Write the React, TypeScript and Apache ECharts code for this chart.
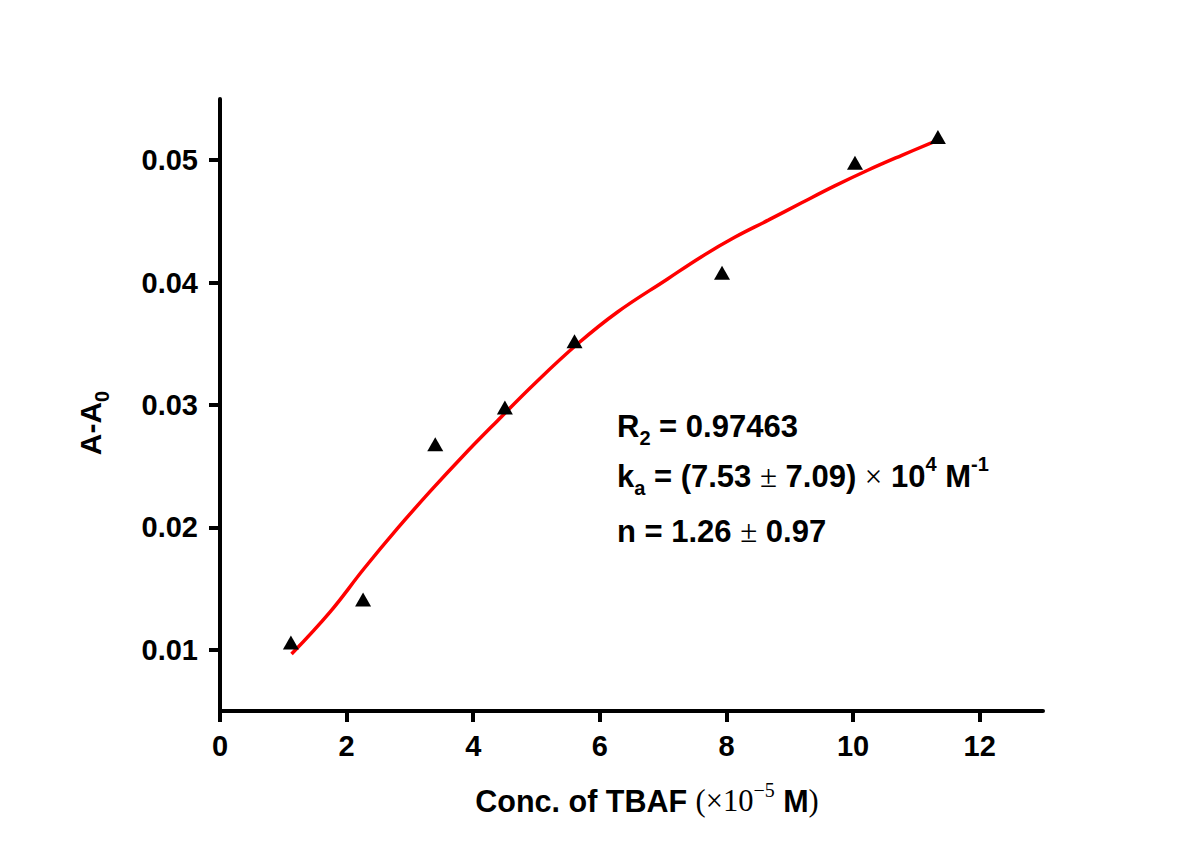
import React, { useEffect, useRef } from "react";
import * as echarts from "echarts";

// measured points (x: conc ×10^-5 M, y: A-A0)
const pointX = [1.12, 2.26, 3.40, 4.50, 5.60, 7.93, 10.03, 11.34];
const pointY = [0.0106, 0.0141, 0.0268, 0.0298, 0.0352, 0.0408, 0.0498, 0.0519];

// fitted curve
const curveX = [1.13, 1.74, 2.27, 2.80, 3.33, 3.85, 4.38, 4.96, 5.65, 6.28, 7.07, 7.60, 8.13, 8.66, 9.18, 9.71, 10.24, 10.77, 11.32];
const curveY = [0.00965, 0.0131, 0.0166, 0.0199, 0.0230, 0.0259, 0.0287, 0.0317, 0.0350, 0.0376, 0.0403, 0.0421, 0.0437, 0.0451, 0.0465, 0.0479, 0.0492, 0.0504, 0.0516];

const xTicks = [0, 2, 4, 6, 8, 10, 12];
const yTicks = [0.01, 0.02, 0.03, 0.04, 0.05];

const SANS = "Liberation Sans";
const SERIF = "Liberation Serif";

function makeRich(fs: number, sfs: number) {
  const L = Math.round(fs * 1.42);
  return {
    m: { fontFamily: SANS, fontWeight: "bold", fontSize: fs, lineHeight: L, verticalAlign: "middle", color: "#000" },
    sub: { fontFamily: SANS, fontWeight: "bold", fontSize: sfs, lineHeight: Math.round(fs * 0.52), verticalAlign: "bottom", color: "#000" },
    sup: { fontFamily: SANS, fontWeight: "bold", fontSize: sfs, lineHeight: Math.round(fs * 1.03), verticalAlign: "top", color: "#000" },
    sym: { fontFamily: SERIF, fontWeight: "normal", fontSize: fs, lineHeight: L, verticalAlign: "middle", color: "#000" },
    ssup: { fontFamily: SERIF, fontWeight: "normal", fontSize: sfs, lineHeight: Math.round(fs * 1.03), verticalAlign: "top", color: "#000" },
  };
}
const richNote = makeRich(31, 20);
const richTitle = makeRich(30.5, 20);
const richY = makeRich(30, 20);

export default function App() {
  const ref = useRef<HTMLDivElement>(null);
  useEffect(() => {
    if (!ref.current) return;
    const chart = echarts.init(ref.current, null, { renderer: "svg" });
    const axisCommon = {
      axisLine: { show: true, lineStyle: { color: "#000", width: 4 } },
      axisTick: { show: true, inside: false, length: 11, lineStyle: { color: "#000", width: 4 } },
      splitLine: { show: false },
      minorTick: { show: false },
    };
    const labelStyle = { fontFamily: SANS, fontWeight: "bold", fontSize: 29, color: "#000" };
    chart.setOption({
      animation: false,
      backgroundColor: "#fff",
      grid: { left: 220, right: 152, top: 99, bottom: 136, containLabel: false, outerBoundsMode: "none" },
      xAxis: {
        type: "value",
        min: 0,
        max: 13,
        ...axisCommon,
        axisTick: { ...axisCommon.axisTick, customValues: xTicks },
        axisLabel: { customValues: xTicks, margin: 20, ...labelStyle, formatter: (v: number) => String(v) },
      },
      yAxis: {
        type: "value",
        min: 0.005,
        max: 0.055,
        ...axisCommon,
        axisTick: { ...axisCommon.axisTick, customValues: yTicks },
        axisLabel: { customValues: yTicks, margin: 22, ...labelStyle, formatter: (v: number) => v.toFixed(2) },
      },
      series: [
        {
          type: "line",
          data: curveX.map((x, i) => [x, curveY[i]]),
          smooth: 0.4,
          showSymbol: false,
          lineStyle: { color: "#ff0000", width: 3.5 },
          z: 2,
        },
        {
          type: "scatter",
          data: pointX.map((x, i) => [x, pointY[i]]),
          symbol: "triangle",
          symbolSize: [16, 14],
          itemStyle: { color: "#000", opacity: 1 },
          z: 3,
        },
      ],
      graphic: [
        {
          type: "text",
          x: 617,
          y: 426,
          style: { text: "{m|R}{sub|2}{m| = 0.97463}", rich: richNote, align: "left", verticalAlign: "middle" },
        },
        {
          type: "text",
          x: 617,
          y: 476,
          style: {
            text: "{m|k}{sub|a}{m| = (7.53 }{sym|±}{m| 7.09) }{sym|×}{m| 10}{sup|4}{m| M}{sup|-1}",
            rich: richNote,
            align: "left",
            verticalAlign: "middle",
          },
        },
        {
          type: "text",
          x: 617,
          y: 531,
          style: { text: "{m|n = 1.26 }{sym|±}{m| 0.97}", rich: richNote, align: "left", verticalAlign: "middle" },
        },
        {
          type: "text",
          x: 647,
          y: 801,
          style: {
            text: "{m|Conc. of TBAF }{sym|(×10}{ssup|−5}{m| M}{sym|)}",
            rich: richTitle,
            align: "center",
            verticalAlign: "middle",
          },
        },
        {
          type: "text",
          x: 90,
          y: 423,
          rotation: Math.PI / 2,
          style: { text: "{m|A-A}{sub|0}", rich: richY, align: "center", verticalAlign: "middle" },
        },
      ],
    });
    return () => chart.dispose();
  }, []);
  return (
    <div
      ref={ref}
      style={{ position: "fixed", left: 0, top: 0, width: 1195, height: 847, background: "#fff" }}
    />
  );
}
